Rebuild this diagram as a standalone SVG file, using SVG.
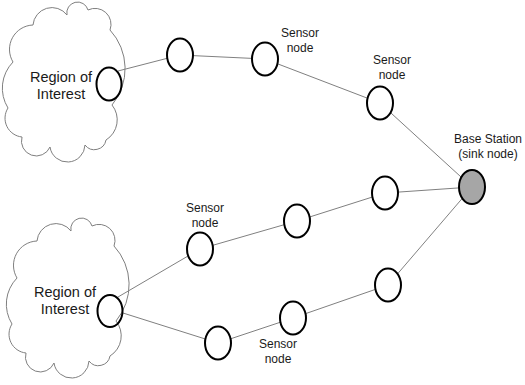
<svg xmlns="http://www.w3.org/2000/svg" width="525" height="385" viewBox="0 0 525 385">
<style>
.cloud{fill:none;stroke:#7f7f7f;stroke-width:1}
.node{fill:#fff;stroke:#000;stroke-width:2}
.rnode{fill:none;stroke:#000;stroke-width:2}
.sink{fill:#a6a6a6;stroke:#000;stroke-width:2}
.edge{stroke:#808080;stroke-width:1;fill:none}
.lbl{font-family:"Liberation Sans",Arial,sans-serif;font-size:12px;fill:#1a1a1a;text-anchor:middle}
.rlbl{font-family:"Liberation Sans",Arial,sans-serif;font-size:14.5px;fill:#1a1a1a;text-anchor:middle}
</style>
<defs>
<path id="cloudShape" d="M13,62 A24.4,24.4 0 0 1 33,25 A19,19 0 0 1 67,15 A10.8,10.8 0 0 1 88,10 A16,16 0 0 1 110,30 A57,57 0 0 1 112,105 A23.7,23.7 0 0 1 106,140 A11.8,11.8 0 0 1 85,145 A17.6,17.6 0 0 1 50,147 A14.9,14.9 0 0 1 22,137 A18.9,18.9 0 0 1 8,108 A37.5,37.5 0 0 1 13,62 Z"/>
</defs>
<g id="region-top">
<use href="#cloudShape" class="cloud"/>
<text class="rlbl" x="61" y="82">Region of</text>
<text class="rlbl" x="61" y="99">Interest</text>
</g>
<g id="region-bottom">
<use href="#cloudShape" class="cloud" transform="translate(4,216)"/>
<text class="rlbl" x="65" y="297">Region of</text>
<text class="rlbl" x="65" y="314">Interest</text>
</g>
<g id="connectors">
<line class="edge" x1="118" y1="71" x2="180" y2="55"/>
<line class="edge" x1="180" y1="55" x2="265" y2="59"/>
<line class="edge" x1="265" y1="59" x2="380" y2="103"/>
<line class="edge" x1="380" y1="103" x2="472" y2="187"/>
<line class="edge" x1="118" y1="297" x2="200" y2="249"/>
<line class="edge" x1="200" y1="249" x2="297" y2="221"/>
<line class="edge" x1="297" y1="221" x2="385" y2="193"/>
<line class="edge" x1="385" y1="193" x2="472" y2="187"/>
<line class="edge" x1="123" y1="313" x2="218" y2="343"/>
<line class="edge" x1="218" y1="343" x2="293" y2="318"/>
<line class="edge" x1="293" y1="318" x2="388" y2="285"/>
<line class="edge" x1="388" y1="285" x2="472" y2="187"/>
</g>
<g id="node-r1"><ellipse class="rnode" cx="109" cy="84" rx="12.5" ry="16.5"/></g>
<g id="node-r2"><ellipse class="rnode" cx="110" cy="311" rx="12.5" ry="16"/></g>
<g id="node-n2"><ellipse class="node" cx="180" cy="55" rx="13" ry="16.5"/></g>
<g id="node-n3"><ellipse class="node" cx="265" cy="59" rx="13" ry="16.5"/>
<text class="lbl" x="300" y="37">Sensor</text><text class="lbl" x="300" y="52">node</text></g>
<g id="node-n4"><ellipse class="node" cx="380" cy="103" rx="13" ry="16.5"/>
<text class="lbl" x="392" y="64">Sensor</text><text class="lbl" x="392" y="79">node</text></g>
<g id="node-b1"><ellipse class="node" cx="200" cy="249" rx="13" ry="16.5"/>
<text class="lbl" x="205" y="212">Sensor</text><text class="lbl" x="205" y="227">node</text></g>
<g id="node-b2"><ellipse class="node" cx="297" cy="221" rx="13" ry="16.5"/></g>
<g id="node-b3"><ellipse class="node" cx="385" cy="193" rx="13" ry="16.5"/></g>
<g id="node-c1"><ellipse class="node" cx="218" cy="343" rx="13" ry="16.5"/></g>
<g id="node-c2"><ellipse class="node" cx="293" cy="318" rx="13" ry="16.5"/>
<text class="lbl" x="278" y="348">Sensor</text><text class="lbl" x="278" y="363">node</text></g>
<g id="node-c3"><ellipse class="node" cx="388" cy="285" rx="13" ry="16.5"/></g>
<g id="base-station"><ellipse class="sink" cx="472" cy="187" rx="13" ry="17"/>
<text class="lbl" x="488" y="143">Base Station</text><text class="lbl" x="488" y="158">(sink node)</text></g>
</svg>
